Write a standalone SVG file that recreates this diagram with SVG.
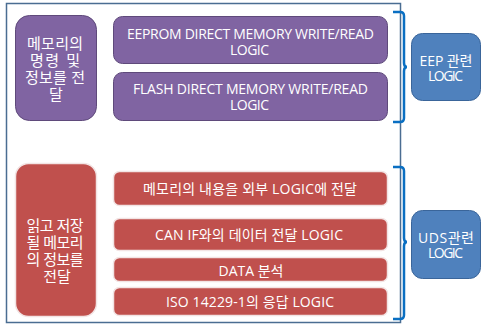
<svg xmlns="http://www.w3.org/2000/svg" width="482" height="326" viewBox="0 0 482 326">
<style>
  .frame { fill: #ffffff; stroke: #4a6d92; stroke-width: 1.5; }
  .purple { fill: #8064a2; stroke: #5f4a7b; stroke-width: 1; }
  .red { fill: #c0504d; stroke: #f2e4e4; stroke-width: 1.5; }
  .blue { fill: #4f81bd; stroke: #3a659a; stroke-width: 1; }
  .brace { fill: none; stroke: #0a6fc2; stroke-width: 2.5; stroke-linecap: butt; }
  text { font-family: "Open Sans", "Noto Sans CJK KR", sans-serif; fill: #ffffff; text-anchor: middle; dominant-baseline: central; font-size: 14px; }
  .k { font-size: 15px; }
</style>
<rect width="482" height="326" fill="#ffffff"/>
<rect class="frame" x="6.5" y="3.5" width="394" height="319"/>

<g id="eep-left">
  <rect class="purple" x="15.5" y="15.5" width="81" height="105" rx="14"/>
  <text class="k" x="55" y="43" textLength="56" lengthAdjust="spacing">메모리의</text>
  <text class="k" x="55" y="60" textLength="50" lengthAdjust="spacing">명령 및</text>
  <text class="k" x="55" y="77" textLength="60" lengthAdjust="spacing">정보를 전</text>
  <text class="k" x="56" y="94">달</text>
</g>
<g id="eeprom">
  <rect class="purple" x="113.5" y="16.5" width="274" height="47" rx="9"/>
  <text x="250.5" y="33" textLength="247" lengthAdjust="spacing">EEPROM DIRECT MEMORY WRITE/READ</text>
  <text x="249.5" y="49" textLength="39" lengthAdjust="spacing">LOGIC</text>
</g>
<g id="flash">
  <rect class="purple" x="113.5" y="72.5" width="274" height="48" rx="9"/>
  <text x="250.5" y="88" textLength="235" lengthAdjust="spacing">FLASH DIRECT MEMORY WRITE/READ</text>
  <text x="249.5" y="104" textLength="39" lengthAdjust="spacing">LOGIC</text>
</g>
<g id="eep">
  <rect class="blue" x="411.5" y="33.5" width="69" height="67" rx="11"/>
  <text x="446" y="60" textLength="53" lengthAdjust="spacing">EEP 관련</text>
  <text x="445.5" y="75" textLength="35" lengthAdjust="spacing">LOGIC</text>
</g>

<g id="uds-left">
  <rect class="red" x="15.5" y="163.5" width="81" height="153" rx="13"/>
  <text class="k" x="55" y="225" textLength="57" lengthAdjust="spacing">읽고 저장</text>
  <text class="k" x="55" y="242" textLength="57" lengthAdjust="spacing">될 메모리</text>
  <text class="k" x="55" y="259" textLength="57" lengthAdjust="spacing">의 정보를</text>
  <text class="k" x="57" y="276">전달</text>
</g>
<g id="row1">
  <rect class="red" x="113.5" y="171.5" width="274" height="34" rx="6"/>
  <text x="250" y="188" textLength="214" lengthAdjust="spacing">메모리의 내용을 외부 LOGIC에 전달</text>
</g>
<g id="row2">
  <rect class="red" x="113.5" y="218.5" width="274" height="32" rx="6"/>
  <text x="249" y="234" textLength="188" lengthAdjust="spacing">CAN IF와의 데이터 전달 LOGIC</text>
</g>
<g id="row3">
  <rect class="red" x="113.5" y="257.5" width="274" height="24" rx="6"/>
  <text x="251" y="270">DATA 분석</text>
</g>
<g id="row4">
  <rect class="red" x="113.5" y="287.5" width="274" height="28" rx="6"/>
  <text x="250" y="301" textLength="168" lengthAdjust="spacing">ISO 14229-1의 응답 LOGIC</text>
</g>
<g id="uds">
  <rect class="blue" x="411.5" y="210.5" width="69" height="68" rx="11"/>
  <text x="446" y="237" textLength="56" lengthAdjust="spacing">UDS관련</text>
  <text x="445.5" y="252" textLength="35" lengthAdjust="spacing">LOGIC</text>
</g>

<g id="connectors">
  <path class="brace" d="M393,12 L400,12 Q404,12 404,16 L404,63 Q404,67 407,67 Q404,67 404,71 L404,118 Q404,122 400,122 L393,122"/>
  <path class="brace" d="M393,167 L400,167 Q404,167 404,171 L404,238 Q404,242 407,242 Q404,242 404,246 L404,315 Q404,319 400,319 L393,319"/>
</g>
</svg>
